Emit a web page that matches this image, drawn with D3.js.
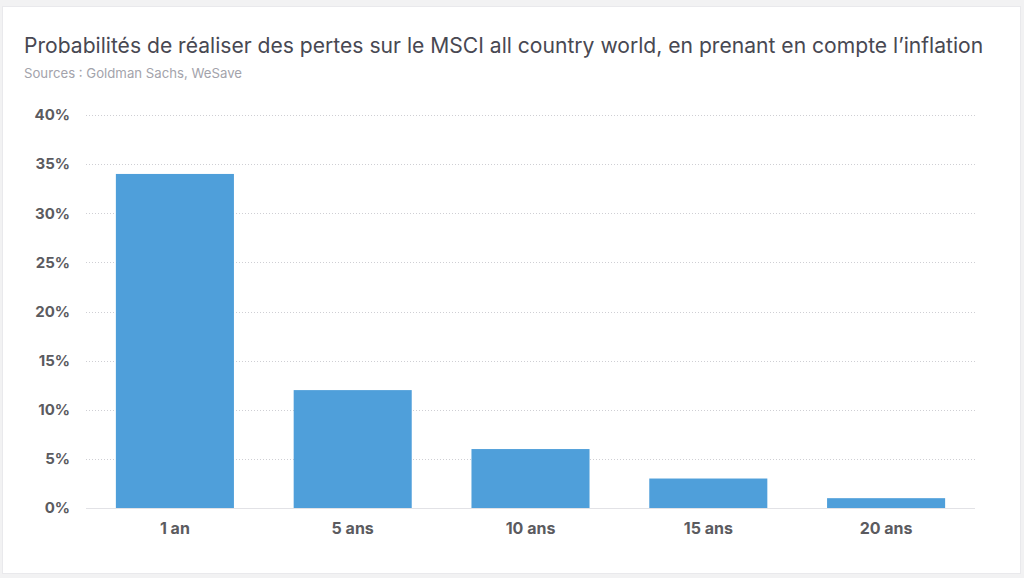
<!DOCTYPE html>
<html>
<head>
<meta charset="utf-8">
<script src="https://cdn.jsdelivr.net/npm/d3@7"></script>
<style>
  html, body { margin: 0; padding: 0; background: #f2f2f3; }
  svg { display: block; }
</style>
</head>
<body>
<svg id="chart" width="1024" height="578"></svg>
<script>
// Horizons d'investissement et probabilité de perte (en %)
const categories = ['1 an', '5 ans', '10 ans', '15 ans', '20 ans'];
const lossProbability = [34, 12, 6, 3, 1];
const yTicks = [0, 5, 10, 15, 20, 25, 30, 35, 40];

const titleText = 'Probabilités de réaliser des pertes sur le MSCI all country world, en prenant en compte l’inflation';
const sourceText = 'Sources : Goldman Sachs, WeSave';

const svg = d3.select('#chart');
const font = "Inter, 'Noto Sans', sans-serif";

// Card background
svg.append('rect')
    .attr('x', 2.5)
    .attr('y', 6.5)
    .attr('width', 1018)
    .attr('height', 567)
    .attr('fill', '#ffffff')
    .attr('stroke', '#e9e9ec')
    .attr('stroke-width', 1);

svg.append('text')
    .attr('x', 24)
    .attr('y', 53)
    .attr('font-family', font)
    .attr('font-size', '21.1px')
    .attr('fill', '#484852')
    .text(titleText);

svg.append('text')
    .attr('x', 24)
    .attr('y', 78)
    .attr('font-family', font)
    .attr('font-size', '13.2px')
    .attr('fill', '#a3a3ab')
    .text(sourceText);

const margin = { left: 86, right: 1024 - 975, top: 115, bottom: 578 - 508 };
const width = 1024 - margin.left - margin.right;
const height = 578 - margin.top - margin.bottom;

const g = svg.append('g').attr('transform', `translate(${margin.left},${margin.top})`);

const x = d3.scaleBand()
    .domain(categories)
    .range([0, width])
    .paddingInner(0.336)
    .paddingOuter(0.168);

const y = d3.scaleLinear()
    .domain([0, 40])
    .range([height, 0]);

// Gridlines (dotted), baseline solid
g.append('g')
    .selectAll('line')
    .data(yTicks)
    .join('line')
    .attr('x1', 0)
    .attr('x2', width)
    .attr('y1', d => Math.round(y(d)) + 0.5)
    .attr('y2', d => Math.round(y(d)) + 0.5)
    .attr('stroke', d => d === 0 ? '#e2e2e6' : '#cfcfd4')
    .attr('stroke-width', 1)
    .attr('stroke-dasharray', d => d === 0 ? null : '1,2');

// Y axis labels
const yAxis = d3.axisLeft(y)
    .tickValues(yTicks)
    .tickFormat(d => d + '%')
    .tickSize(0)
    .tickPadding(16);

g.append('g')
    .call(yAxis)
    .call(a => a.select('.domain').remove())
    .call(a => a.selectAll('text')
        .attr('font-family', font)
        .attr('font-size', '15px')
        .attr('font-weight', 700)
        .attr('fill', '#5b5b5f'));

// Bars
g.append('g')
    .selectAll('rect')
    .data(lossProbability)
    .join('rect')
    .attr('x', (d, i) => x(categories[i]))
    .attr('y', d => y(d))
    .attr('width', x.bandwidth())
    .attr('height', d => height - y(d))
    .attr('fill', '#4f9fda');

// X axis labels
const xAxis = d3.axisBottom(x)
    .tickSize(0)
    .tickPadding(15);

g.append('g')
    .attr('transform', `translate(0,${height})`)
    .call(xAxis)
    .call(a => a.select('.domain').remove())
    .call(a => a.selectAll('text')
        .attr('font-family', font)
        .attr('font-size', '16px')
        .attr('font-weight', 700)
        .attr('fill', '#5b5b5f'));
</script>
</body>
</html>
